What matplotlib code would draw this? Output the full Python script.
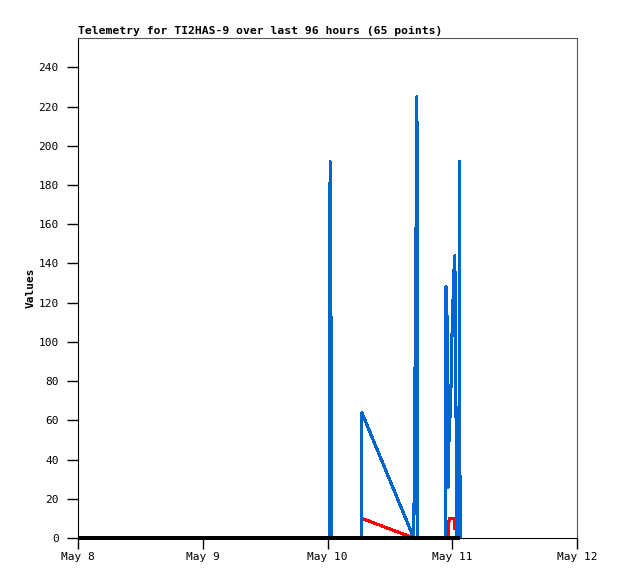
import matplotlib
matplotlib.use('Agg')
import matplotlib.pyplot as plt
import pandas as pd

# start of the time window
start = pd.Timestamp('2024-05-08 00:00')

# hours since start / values
blue_hours = [0.4, 48.3, 48.5, 48.7, 48.8, 54.5, 54.6, 64.6, 64.8, 65.0, 65.2, 65.4,
              70.7, 70.8, 71.0, 71.2, 71.3, 71.6, 71.8, 71.9, 72.1, 72.3, 72.5, 72.7,
              72.9, 73.3, 73.4, 73.5]
blue_vals = [0, 0, 192, 97, 0, 0, 64, 0, 72, 145, 225, 0,
             0, 128, 112, 26, 45, 64, 81, 99, 117, 135, 144, 72,
             0, 0, 192, 0]

red_hours = [54.6, 64.6, 71.2, 71.4, 72.4, 72.5]
red_vals = [10, 0, 0, 10, 10, 5]

black_hours = [0.4, 73.2]
black_vals = [0, 0]

yticks = list(range(0, 241, 20))
xtick_labels = ['May 8', 'May 9', 'May 10', 'May 11', 'May 12']


def to_time(hours):
    return [start + pd.Timedelta(hours=h) for h in hours]


plt.rcParams['font.family'] = ['DejaVu Sans Mono']

fig = plt.figure(figsize=(6.18, 5.79), dpi=100)
ax = fig.add_axes([78 / 618, 41 / 579, 499 / 618, 500 / 579])

ax.plot(to_time(blue_hours), blue_vals, color='#0066cc', lw=1.5, zorder=3, antialiased=False)
ax.plot(to_time(red_hours), red_vals, color='#ff0000', lw=1.5, zorder=2, antialiased=False)
ax.plot(to_time(black_hours), black_vals, color='black', lw=1.5, zorder=4,
        clip_on=False, antialiased=False)

ax.set_xlim(start, start + pd.Timedelta(days=4))
ax.set_ylim(0, 255)
ax.set_yticks(yticks)
ax.set_yticklabels([str(v) for v in yticks], fontsize=8)
ax.set_xticks([start + pd.Timedelta(days=i) for i in range(5)])
ax.set_xticklabels(xtick_labels, fontsize=8)
ax.tick_params(axis='y', direction='out', length=8, width=1, pad=6)
ax.tick_params(axis='x', direction='out', length=8, width=1, pad=2)

for side in ['top', 'right']:
    ax.spines[side].set_color('#555555')
ax.spines['left'].set_color('black')
ax.spines['bottom'].set_color('black')

ax.set_ylabel('Values', fontsize=8, fontweight='bold', labelpad=2)
ax.set_title('Telemetry for TI2HAS-9 over last 96 hours (65 points)',
             loc='left', fontsize=8.2, fontweight='bold', pad=3)

plt.savefig('out.png', dpi=100)
